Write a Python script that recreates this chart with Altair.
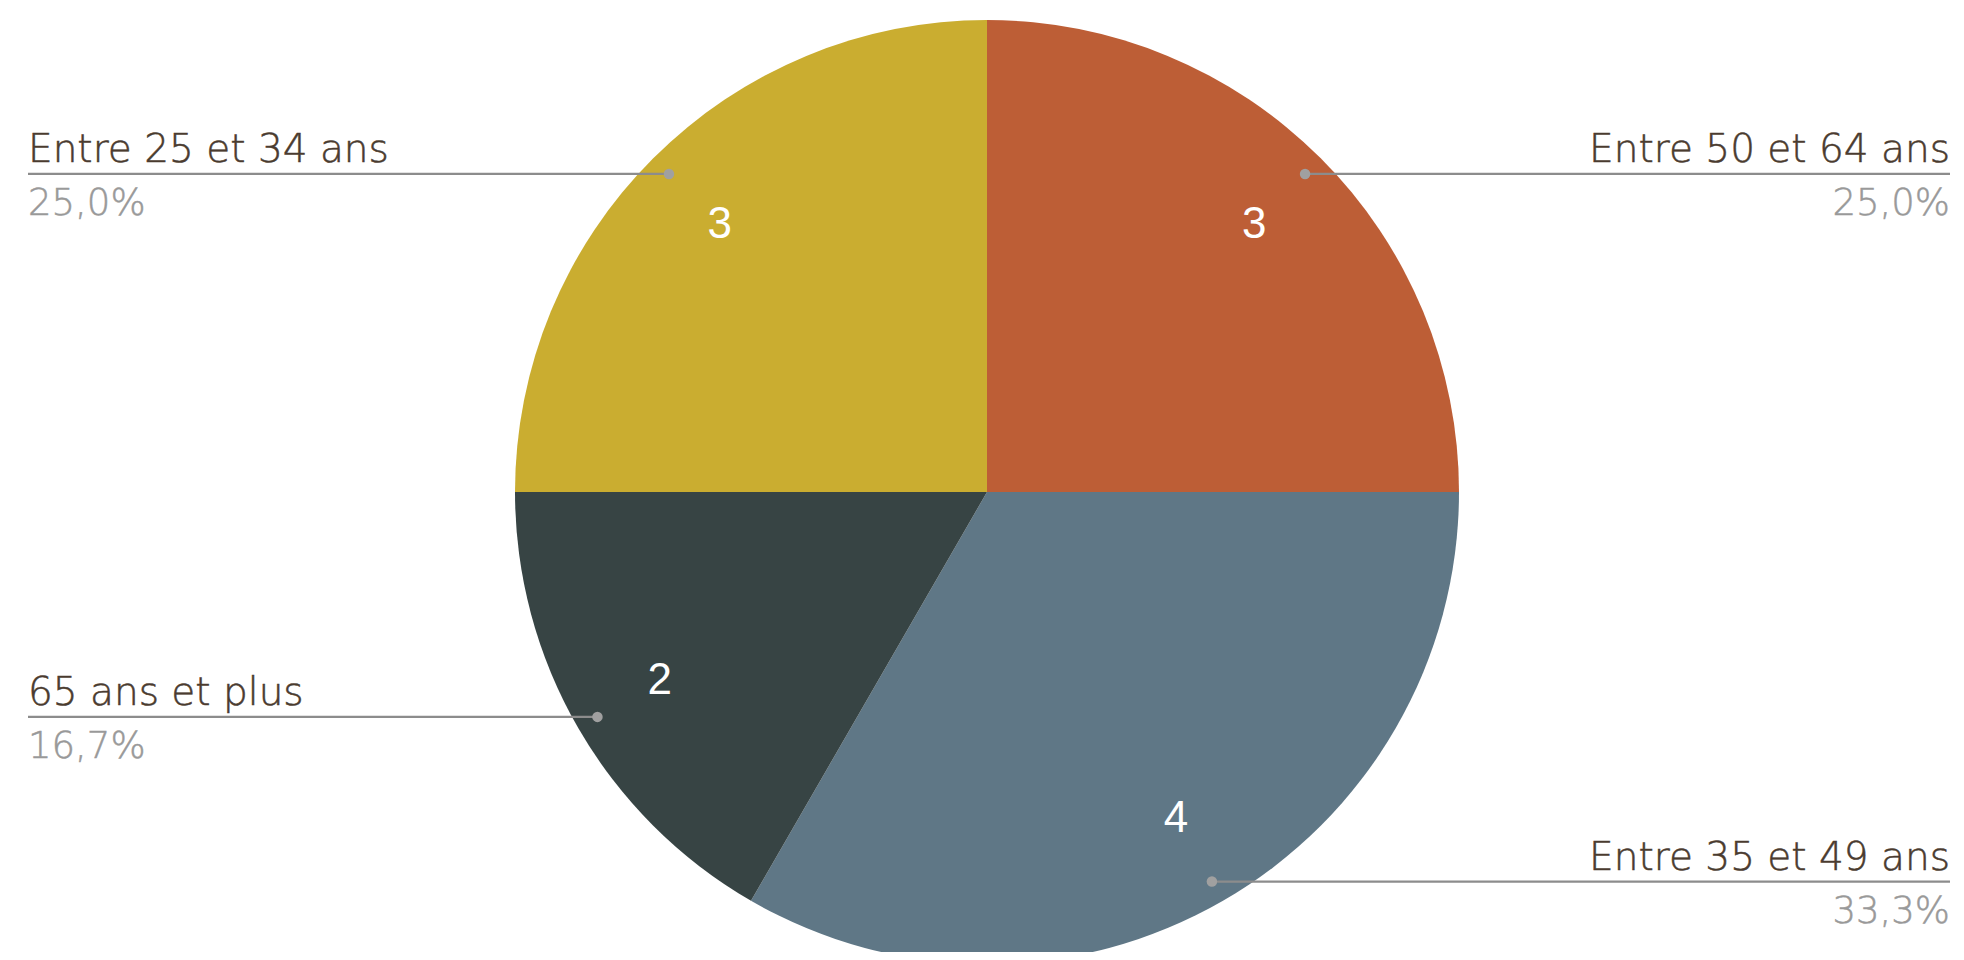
import math
import altair as alt
import pandas as pd

labels = ["Entre 50 et 64 ans", "Entre 35 et 49 ans", "65 ans et plus", "Entre 25 et 34 ans"]
values = [3, 4, 2, 3]
colors = ["#BD5E36", "#5F7786", "#374444", "#CAAD30"]
sides = ["right", "right", "left", "left"]

CX, CY, R = 979, 484, 472
W, H = 1948, 944
LEFT_X, RIGHT_X = 20, 1942

total = sum(values)
rows = []
cum = 0
for i, (lab, v, s) in enumerate(zip(labels, values, sides)):
    mid = (cum + v / 2) / total * 2 * math.pi
    cum += v
    rows.append(dict(
        label=lab, value=v, ord=i, side=s,
        pct=f"{v / total * 100:.1f}%".replace(".", ","),
        dx=CX + 0.953 * R * math.sin(mid),
        dy=CY - 0.953 * R * math.cos(mid),
        tx=RIGHT_X if s == "right" else LEFT_X,
    ))
df = pd.DataFrame(rows)

base = alt.Chart(df)

arc = base.mark_arc(outerRadius=R).encode(
    theta=alt.Theta("value:Q", stack=True),
    color=alt.Color("label:N", scale=alt.Scale(domain=labels, range=colors), legend=None),
    order=alt.Order("ord:Q"),
    x=alt.value(CX), y=alt.value(CY),
)

nums = base.mark_text(radius=378, font="Liberation Sans", fontSize=44, color="white",
                      baseline="middle", align="center").encode(
    theta=alt.Theta("value:Q", stack=True),
    detail="label:N",
    order=alt.Order("ord:Q"),
    text="value:Q",
    x=alt.value(CX), y=alt.value(CY),
)

lines = base.mark_rule(color="#8c8c8c", strokeWidth=2.2).encode(
    x=alt.X("dx:Q", scale=None), x2="tx:Q", y=alt.Y("dy:Q", scale=None),
)

dots = base.mark_circle(size=110, color="#a0a0a0", opacity=1).encode(
    x=alt.X("dx:Q", scale=None), y=alt.Y("dy:Q", scale=None),
)

FONT = "DejaVu Sans"

def side_text(side, align):
    sub = base.transform_filter(alt.datum.side == side)
    lab = sub.mark_text(align=align, baseline="alphabetic", dy=-12, font=FONT, fontWeight=200,
                        fontSize=39, color="#4a3b2f", stroke="#4a3b2f", strokeWidth=0.5).encode(
        x=alt.X("tx:Q", scale=None), y=alt.Y("dy:Q", scale=None), text="label:N")
    pct = sub.mark_text(align=align, baseline="alphabetic", dy=41, font=FONT, fontWeight=200,
                        fontSize=37, color="#999999", stroke="#999999", strokeWidth=0.5).encode(
        x=alt.X("tx:Q", scale=None), y=alt.Y("dy:Q", scale=None), text="pct:N")
    return lab + pct

chart = alt.layer(arc, nums, lines, dots, side_text("left", "left"), side_text("right", "right")).properties(
    width=W, height=H, padding=0,
    autosize=alt.AutoSizeParams(type="none"),
).configure_view(stroke=None)

chart.save("out.html", embed_options={"renderer": "svg", "actions": False})
